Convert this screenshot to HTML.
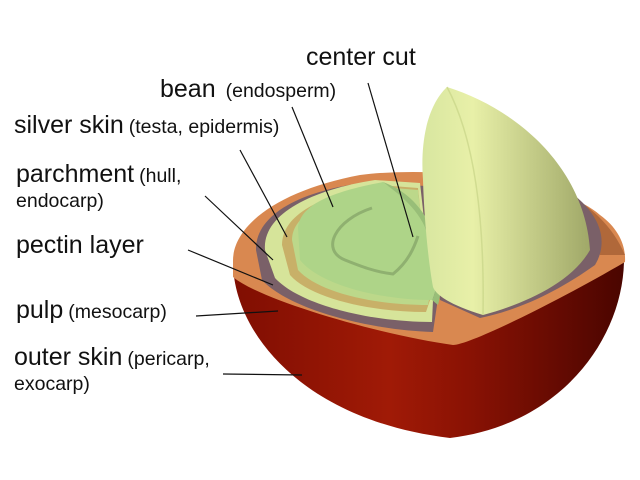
<!DOCTYPE html>
<html><head><meta charset="utf-8"><style>
html,body{margin:0;padding:0;background:#fff;width:640px;height:480px;overflow:hidden}
svg{display:block}
text{font-family:"Liberation Sans",sans-serif;fill:#111}
.b{font-size:25px}.s{font-size:19.5px}
</style></head><body>
<svg width="640" height="480" viewBox="0 0 640 480">
<defs>
<linearGradient id="red" x1="0" x2="1" y1="0" y2="0">
<stop offset="0" stop-color="#800e02"/><stop offset="0.4" stop-color="#a01a06"/><stop offset="0.6" stop-color="#8a1204"/><stop offset="1" stop-color="#4a0500"/>
</linearGradient>
<linearGradient id="bean" x1="0" x2="1" y1="0" y2="0">
<stop offset="0" stop-color="#d8e6a0"/><stop offset="0.3" stop-color="#e8f0a8"/><stop offset="1" stop-color="#a0a868"/>
</linearGradient>
</defs>
<path d="M233,262 C233,330 300,420 450,438 C560,425 622,340 624,262 Z" fill="url(#red)"/>
<path d="M233,262 C232,225 280,190 360,175 C440,165 560,180 600,215 C618,228 626,245 625,262 C560,300 470,345 453,345 C380,335 260,300 233,277 Z" fill="#d98850"/>
<path d="M560,190 C590,205 612,225 625,255 L600,255 Z" fill="#b0683a"/>
<path d="M256,250 C255,215 300,190 370,182 L425,186 L437,305 L433,332 C370,330 290,310 262,280 Z" fill="#7a6068"/>
<path d="M425,190 L560,185 C600,210 610,240 595,265 C560,290 520,310 480,318 L440,300 Z" fill="#7a6068"/>
<path d="M265,250 C262,215 310,190 375,180 L420,183 L433,300 L432,322 C370,322 300,305 275,278 Z" fill="#d6e49a"/>
<path d="M282,245 C282,215 320,195 380,185 L418,188 L430,300 L426,312 C370,312 310,298 290,275 Z" fill="#c8b068"/>
<path d="M292,240 C292,215 325,198 382,187 L418,190 L430,295 L428,305 C372,305 318,292 298,270 Z" fill="#bcd88a"/>
<path d="M298,228 C300,205 330,192 383,182 C400,195 420,210 428,235 C437,260 440,285 432,300 C380,300 320,285 300,260 Z" fill="#aed488"/>
<path d="M383,182 C400,195 420,210 428,235 C437,260 440,285 432,300 L438,305 C445,280 440,250 430,225 C420,205 405,190 383,182 Z" fill="#98be78"/>
<path d="M372,208 C335,220 320,250 345,260 C360,266 375,272 393,274 C408,262 414,248 418,236" fill="none" stroke="#8fb070" stroke-width="3"/>
<path d="M423,180 C420,140 428,105 447,87 C520,110 585,170 590,250 C570,285 520,305 483,315 C450,305 436,295 433,287 C428,260 424,215 423,180 Z" fill="url(#bean)"/>
<path d="M447,87 C470,130 485,200 483,315" fill="none" stroke="#c8d488" stroke-width="1.5" opacity="0.7"/>
<g stroke="#111" stroke-width="1.2">
<line x1="368" y1="83" x2="413" y2="237"/>
<line x1="292" y1="107" x2="333" y2="207"/>
<line x1="240" y1="150" x2="287" y2="237"/>
<line x1="205" y1="196" x2="273" y2="260"/>
<line x1="188" y1="250" x2="273" y2="285"/>
<line x1="196" y1="316" x2="278" y2="311"/>
<line x1="223" y1="374" x2="302" y2="375"/>
</g>
<text x="306" y="65" class="b">center cut</text>
<text x="160" y="97"><tspan class="b">bean</tspan><tspan class="s" dx="10">(endosperm)</tspan></text>
<text x="14" y="133"><tspan class="b">silver skin</tspan><tspan class="s" dx="5">(testa, epidermis)</tspan></text>
<text x="16" y="182"><tspan class="b">parchment</tspan><tspan class="s" dx="5">(hull,</tspan></text>
<text x="16" y="207" class="s">endocarp)</text>
<text x="16" y="253" class="b">pectin layer</text>
<text x="16" y="318"><tspan class="b">pulp</tspan><tspan class="s" dx="5">(mesocarp)</tspan></text>
<text x="14" y="365"><tspan class="b">outer skin</tspan><tspan class="s" dx="5">(pericarp,</tspan></text>
<text x="14" y="390" class="s">exocarp)</text>
</svg>
</body></html>
